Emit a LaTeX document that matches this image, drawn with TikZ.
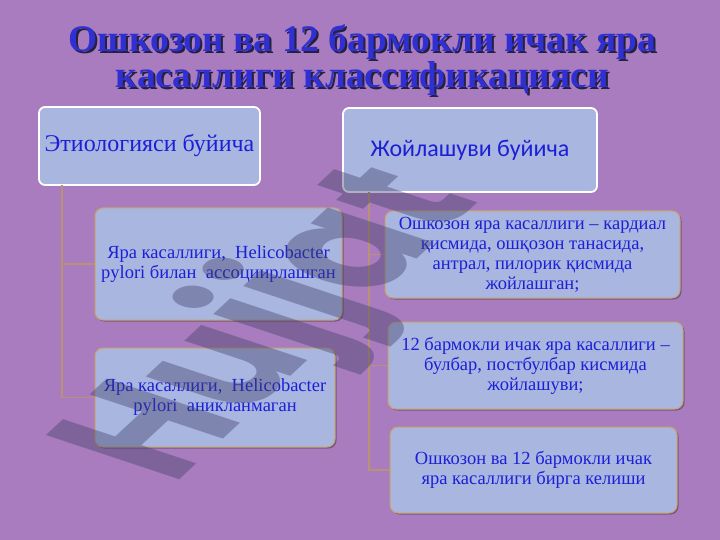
\documentclass[tikz,border=0pt]{standalone}
\usepackage{fontspec}
\setmainfont{Liberation Serif}
\newfontfamily\hdsans{Carlito}
\newfontfamily\wmfont{Poppins}
\usetikzlibrary{shadows}
\definecolor{bgpurple}{HTML}{A87CBE}
\definecolor{boxfill}{HTML}{A9B6E0}
\definecolor{txtblue}{HTML}{1C1FD6}
\definecolor{titleblue}{HTML}{3030D2}
\definecolor{titleshadow}{HTML}{26203A}
\definecolor{goldline}{HTML}{C9A468}
\definecolor{connclr}{HTML}{B89272}
\definecolor{wmclr}{HTML}{3E3E66}
\tikzset{
  headbox/.style={draw=white, line width=1.8pt, rounded corners=6pt, fill=boxfill,
    text=txtblue, align=center, inner sep=0pt},
  itembox/.style={draw=goldline, line width=1pt, rounded corners=8pt, fill=boxfill,
    text=txtblue, align=center, inner sep=0pt,
    drop shadow={shadow xshift=1.5pt, shadow yshift=-1.5pt, opacity=0.3, fill=black}},
  connline/.style={draw=connclr, line width=1.6pt},
  connshade/.style={draw=black, opacity=0.25, line width=1.2pt},
  itemtext/.style={font=\fontsize{18.5}{20}\selectfont},
  titletext/.style={font=\fontsize{37.5}{36}\selectfont\bfseries, align=center},
}
\begin{document}
\begin{tikzpicture}[x=1pt, y=-1pt]
  \fill[bgpurple] (0,0) rectangle (720,540);
  \useasboundingbox (0,0) rectangle (720,540);

  % title
  \node[titletext, text=titleshadow] (titlesh) at (364.5,62.5)
    {Ошкозон ва 12 бармокли ичак яра\\касаллиги классификацияси};
  \node[titletext, text=titleblue] (title) at (362.5,60.5)
    {Ошкозон ва 12 бармокли ичак яра\\касаллиги классификацияси};

  % header boxes
  \node[headbox, minimum width=221pt, minimum height=78pt,
        font=\fontsize{24}{26}\selectfont] (hl) at (149.5,146) {Этиологияси буйича};
  \node[headbox, minimum width=254pt, minimum height=84pt,
        font=\hdsans\fontsize{24}{26}\selectfont] (hr) at (470,150) {Жойлашуви буйича};

  % left items
  \node[itembox, itemtext, minimum width=247pt, minimum height=112pt] (l1) at (218.5,264)
    {Яра касаллиги,\ \ Helicobacter\\pylori билан\ \ ассоциирлашган};
  \node[itembox, itemtext, minimum width=240pt, minimum height=99pt] (l2) at (215,397.5)
    {Яра касаллиги,\ \ Helicobacter\\pylori\ \ аникланмаган};

  % right items
  \node[itembox, itemtext, minimum width=295pt, minimum height=87pt] (r1) at (532.5,254.5)
    {Ошкозон яра касаллиги – кардиал\\қисмида, ошқозон танасида,\\антрал, пилорик қисмида\\жойлашган;};
  \node[itembox, itemtext, minimum width=295pt, minimum height=87pt] (r2) at (535.5,365.5)
    {12 бармокли ичак яра касаллиги –\\булбар, постбулбар кисмида\\жойлашуви;};
  \node[itembox, itemtext, minimum width=287pt, minimum height=86pt] (r3) at (533.5,470)
    {Ошкозон ва 12 бармокли ичак\\яра касаллиги бирга келиши};

  % connectors
  \coordinate (tl) at (62,185);
  \coordinate (tr) at (369,192);
  \draw[connshade, shift={(1.5pt,-1.5pt)}] (tl) |- (l2.west);
  \draw[connshade, shift={(1.5pt,-1.5pt)}] (tl |- l1.west) -- (l1.west);
  \draw[connshade, shift={(1.5pt,-1.5pt)}] (tr) |- (r3.west);
  \draw[connshade, shift={(1.5pt,-1.5pt)}] (tr |- r1.west) -- (r1.west);
  \draw[connshade, shift={(1.5pt,-1.5pt)}] (tr |- r2.west) -- (r2.west);
  \draw[connline] (tl) |- (l2.west);
  \draw[connline] (tl |- l1.west) -- (l1.west);
  \draw[connline] (tr) |- (r3.west);
  \draw[connline] (tr |- r1.west) -- (r1.west);
  \draw[connline] (tr |- r2.west) -- (r2.west);

  % watermark
  \begin{scope}[cm={1.0,0.93,-1.9,0.63,(173,486)}]
    \node[transform shape, anchor=base west, inner sep=0pt, text=wmclr, text opacity=0.4,
          font=\wmfont\bfseries\fontsize{100}{100}\selectfont] (wm) at (0,0) {Hujjat};
  \end{scope}
\end{tikzpicture}
\end{document}
